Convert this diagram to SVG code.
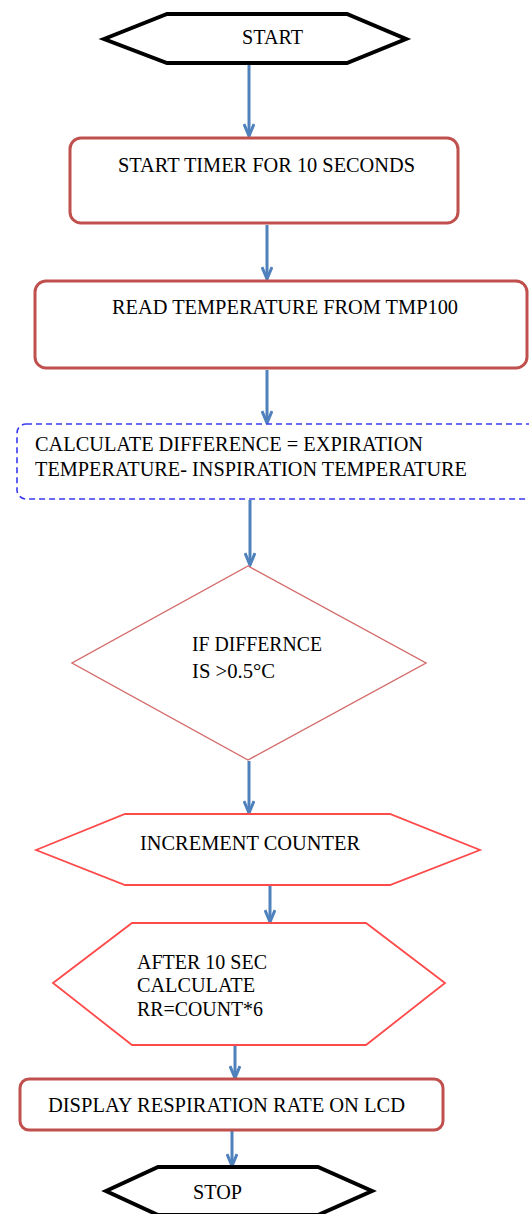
<svg xmlns="http://www.w3.org/2000/svg" width="529" height="1214" viewBox="0 0 529 1214">
<style>
text{font-family:"Liberation Serif","Times New Roman",serif;font-size:21px;fill:#000}
.term{fill:#fff;stroke:#000;stroke-width:4;stroke-linejoin:miter}
.proc{fill:#fff;stroke:#c0504d;stroke-width:3}
.dash{fill:#fff;stroke:#3a3af0;stroke-width:1.6;stroke-dasharray:6 4}
.dec{fill:#fff;stroke:#d46a6a;stroke-width:1.4}
.hex{fill:#fff;stroke:#ff4a4a;stroke-width:1.8}
.conn{fill:none;stroke:#4f81bd;stroke-width:3}
</style>
<defs>
<marker id="ah" viewBox="0 0 16 12" refX="14" refY="6" markerWidth="16" markerHeight="12" markerUnits="userSpaceOnUse" orient="auto">
<path d="M2,1 L14,6 L2,11" fill="none" stroke="#4f81bd" stroke-width="3" stroke-linejoin="miter"/>
</marker>
</defs>
<rect width="529" height="1214" fill="#fff"/>
<g id="connectors">
<line class="conn" x1="249" y1="64" x2="249" y2="136" marker-end="url(#ah)"/>
<line class="conn" x1="267" y1="225" x2="267" y2="279" marker-end="url(#ah)"/>
<line class="conn" x1="267" y1="370" x2="267" y2="423" marker-end="url(#ah)"/>
<line class="conn" x1="250" y1="500" x2="250" y2="565" marker-end="url(#ah)"/>
<line class="conn" x1="249" y1="761" x2="249" y2="813" marker-end="url(#ah)"/>
<line class="conn" x1="270" y1="886" x2="270" y2="922" marker-end="url(#ah)"/>
<line class="conn" x1="235" y1="1046" x2="235" y2="1078" marker-end="url(#ah)"/>
<line class="conn" x1="232" y1="1131" x2="232" y2="1166" marker-end="url(#ah)"/>
</g>
<g id="start">
<polygon class="term" points="104,39 167,14 347,14 406,39 347,63 167,63"/>
<text x="242" y="44" textLength="61" lengthAdjust="spacingAndGlyphs">START</text>
</g>
<g id="timer">
<rect class="proc" x="70" y="138" width="388" height="85" rx="11"/>
<text x="118" y="172" textLength="297" lengthAdjust="spacingAndGlyphs">START TIMER FOR 10 SECONDS</text>
</g>
<g id="read">
<rect class="proc" x="35" y="281" width="492" height="87" rx="11"/>
<text x="112" y="314" textLength="346" lengthAdjust="spacingAndGlyphs">READ TEMPERATURE FROM TMP100</text>
</g>
<g id="calc">
<rect class="dash" x="17" y="424" width="520" height="75" rx="9"/>
<text x="35" y="451" textLength="388" lengthAdjust="spacingAndGlyphs">CALCULATE DIFFERENCE = EXPIRATION</text>
<text x="35" y="476" textLength="432" lengthAdjust="spacingAndGlyphs">TEMPERATURE- INSPIRATION TEMPERATURE</text>
</g>
<g id="decision">
<polygon class="dec" points="248,566 426,663 248,760 72,663"/>
<text x="192" y="651" textLength="130" lengthAdjust="spacingAndGlyphs">IF DIFFERNCE</text>
<text x="192" y="678" textLength="83" lengthAdjust="spacingAndGlyphs">IS &gt;0.5°C</text>
</g>
<g id="increment">
<polygon class="hex" points="36,850 125,814 390,814 480,850 390,885 125,885"/>
<text x="140" y="850" textLength="220" lengthAdjust="spacingAndGlyphs">INCREMENT COUNTER</text>
</g>
<g id="compute">
<polygon class="hex" points="53,983 132,923 366,923 445,983 366,1045 132,1045"/>
<text x="137" y="969" textLength="130" lengthAdjust="spacingAndGlyphs">AFTER 10 SEC</text>
<text x="137" y="992" textLength="118" lengthAdjust="spacingAndGlyphs">CALCULATE</text>
<text x="137" y="1016" textLength="126" lengthAdjust="spacingAndGlyphs">RR=COUNT*6</text>
</g>
<g id="display">
<rect class="proc" x="20" y="1079" width="423" height="51" rx="9"/>
<text x="48" y="1112" textLength="357" lengthAdjust="spacingAndGlyphs">DISPLAY RESPIRATION RATE ON LCD</text>
</g>
<g id="stop">
<polygon class="term" points="106,1191 158,1167 318,1167 372,1191 318,1215 158,1215"/>
<text x="193" y="1199" textLength="49" lengthAdjust="spacingAndGlyphs">STOP</text>
</g>
</svg>
